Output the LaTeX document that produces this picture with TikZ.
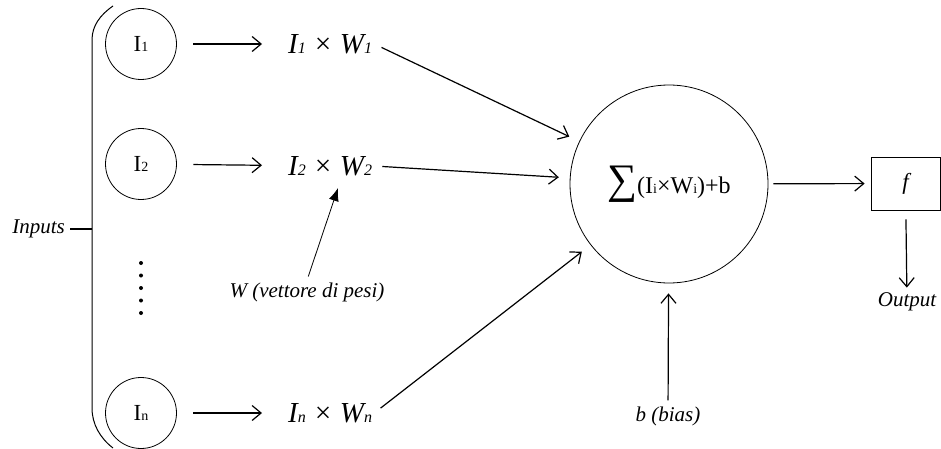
\documentclass[tikz,border=0pt]{standalone}
\usepackage{fontspec}
\setmainfont{Liberation Serif}
\usetikzlibrary{arrows.meta}
\newcommand{\sm}[1]{{\fontsize{14}{14}\selectfont #1}}
\newcommand{\smb}[1]{{\fontsize{16}{16}\selectfont #1}}

\begin{document}
\begin{tikzpicture}[x=1pt, y=-1pt,
  neuron/.style={draw, circle, line width=0.8pt, inner sep=0pt, minimum size=71pt,
    font=\fontsize{23}{26}\selectfont},
  prod/.style={anchor=west, inner sep=2pt, font=\fontsize{29}{32}\selectfont\itshape},
  note/.style={inner sep=2pt, font=\fontsize{21}{24}\selectfont\itshape},
  arr/.style={line width=1.2pt, -{Straight Barb[length=9pt, width=15pt, line width=1.2pt]}},
  thinarr/.style={line width=0.8pt, -{Latex[length=13pt, width=10pt]}}]
  \useasboundingbox (0,0) rectangle (941,449);

  % Input neurons
  \node[neuron] (i1) at (141,44) {I\sm{1}};
  \node[neuron] (i2) at (141,164) {I\sm{2}};
  \node[neuron] (in) at (141,413) {I\sm{n}};
  \foreach \y in {263,275.5,288,300.5,313}
    \fill (141,\y) circle (2pt);

  % Bracket and label
  \draw[line width=1pt] (113,6) .. controls (100,15) and (92,26) .. (92,40)
    -- (92,408) .. controls (92,424) and (100,438) .. (113,448);
  \node[note, anchor=east] (inputs) at (67,229) {Inputs};
  \coordinate (brk) at (92,229);
  \draw[line width=1.2pt, shorten <=3pt] (inputs.east) -- (brk);

  % Weighted inputs
  \node[prod] (p1) at (286,44) {I\smb{1} × W\smb{1}};
  \node[prod] (p2) at (286,166) {I\smb{2} × W\smb{2}};
  \node[prod] (pn) at (286,413) {I\smb{n} × W\smb{n}};
  \foreach \a/\b in {i1/p1,i2/p2,in/pn}
    \draw[arr, shorten <=16.5pt, shorten >=24pt] (\a) -- (\b);

  % Sum node
  \node[draw, circle, line width=0.8pt, minimum size=198pt, inner sep=0pt] (sum) at (669,184)
    {{\fontsize{42}{42}\selectfont ∑}{\fontsize{24}{26}\selectfont (I\sm{i}×W\sm{i})+b}};
  \foreach \p in {p1,p2,pn}
    \draw[arr, shorten <=8pt, shorten >=11pt] (\p.east) -- (sum);

  % Weights vector
  \node[note] (wlab) at (307,292) {W (vettore di pesi)};
  \coordinate (wtip) at (338,188);
  \draw[thinarr, shorten <=4pt] (wlab.north) -- (wtip);

  % Bias
  \node[note] (bias) at (668,416) {b (bias)};
  \draw[arr, shorten <=4pt, shorten >=10pt] (bias) -- (sum);

  % Activation and output
  \node[draw, line width=0.8pt, minimum width=69pt, minimum height=53pt, inner sep=0pt,
    font=\fontsize{23}{26}\selectfont\itshape] (f) at (905.5,183.5) {f};
  \draw[arr, shorten <=5pt, shorten >=6pt] (sum) -- (f);
  \node[note] (out) at (907,302) {Output};
  \draw[arr, shorten <=9pt, shorten >=3pt] (f) -- (out);
\end{tikzpicture}
\end{document}
